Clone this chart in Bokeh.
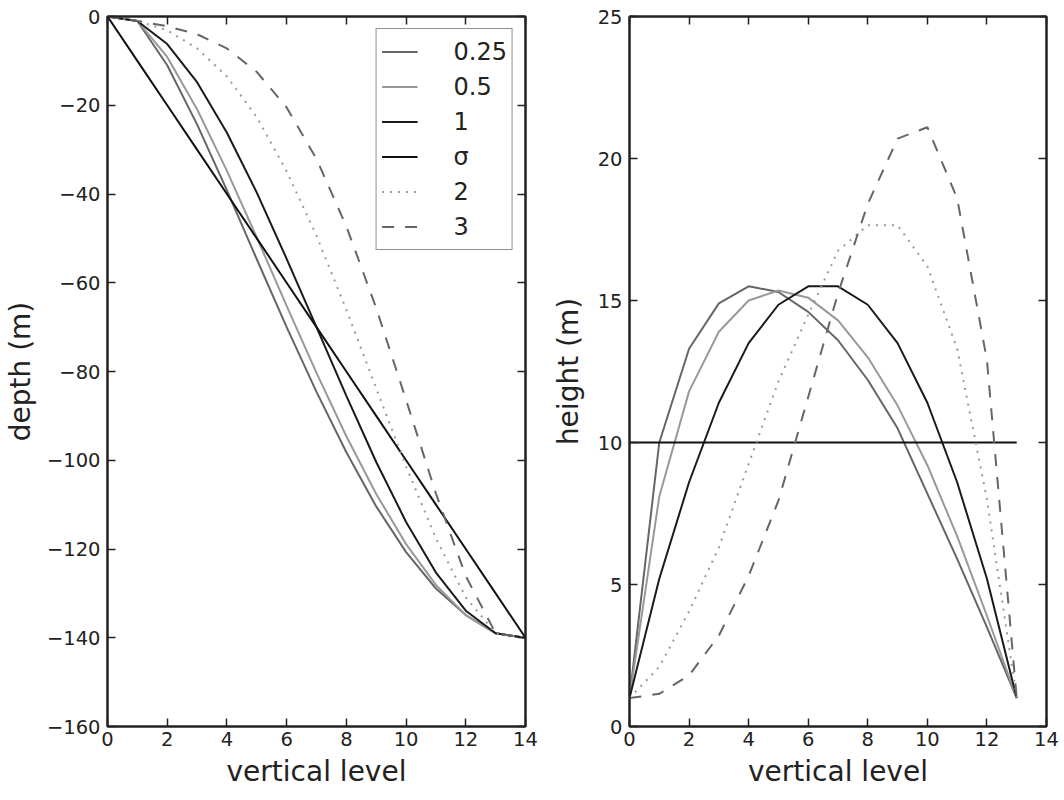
from bokeh.plotting import figure
from bokeh.layouts import row
from bokeh.models import LinearAxis, FixedTicker, Legend, LegendItem, Range1d, CustomJSTickFormatter
from bokeh.embed import file_html
from bokeh.resources import INLINE

# ---------------- data ----------------
levels_depth = [0, 1, 2, 3, 4, 5, 6, 7, 8, 9, 10, 11, 12, 13, 14]
levels_height = [0, 1, 2, 3, 4, 5, 6, 7, 8, 9, 10, 11, 12, 13]

series_labels = ["0.25", "0.5", "1", "σ", "2", "3"]

depth_025 = [0, -1, -11, -24.3, -39.2, -54.7, -70.0, -84.6, -98.2, -110.4, -120.7, -128.9, -134.9, -139, -140]
depth_05 = [0, -1, -9.1, -20.9, -34.8, -49.8, -65.2, -80.3, -94.6, -107.6, -118.9, -128.1, -134.9, -139, -140]
depth_1 = [0, -1, -6.2, -14.8, -26.2, -39.7, -54.6, -70.0, -85.5, -100.4, -113.9, -125.3, -133.9, -139, -140]
depth_sigma = [0, -10, -20, -30, -40, -50, -60, -70, -80, -90, -100, -110, -120, -130, -140]
depth_2 = [0, -1, -3.1, -7.2, -13.5, -22.7, -34.9, -49.4, -66.1, -83.8, -101.4, -117.6, -130.9, -139, -140]
depth_3 = [0, -1, -2.2, -4.0, -7.2, -12.5, -20.5, -32.1, -47.3, -65.7, -86.4, -107.5, -126.1, -139, -140]

height_025 = [1.0, 10.0, 13.3, 14.9, 15.5, 15.3, 14.6, 13.6, 12.2, 10.5, 8.2, 5.9, 3.5, 1.0]
height_05 = [1.0, 8.1, 11.8, 13.9, 15.0, 15.35, 15.1, 14.3, 13.0, 11.3, 9.2, 6.7, 3.9, 1.0]
height_1 = [1.0, 5.2, 8.6, 11.4, 13.5, 14.85, 15.5, 15.5, 14.85, 13.5, 11.4, 8.6, 5.2, 1.0]
height_sigma = [10, 10, 10, 10, 10, 10, 10, 10, 10, 10, 10, 10, 10, 10]
height_2 = [1.0, 2.1, 4.05, 6.3, 9.25, 12.15, 14.5, 16.75, 17.65, 17.65, 16.2, 13.3, 8.0, 1.0]
height_3 = [1.0, 1.15, 1.8, 3.2, 5.3, 7.95, 11.6, 15.25, 18.4, 20.7, 21.1, 18.6, 12.9, 1.0]

x_ticks = [0, 2, 4, 6, 8, 10, 12, 14]
depth_ticks = [-160, -140, -120, -100, -80, -60, -40, -20, 0]
height_ticks = [0, 5, 10, 15, 20, 25]

# ---------------- styles ----------------
FONT = "DejaVu Sans"
INK = "#222222"
colors = ["#666666", "#999999", "#1a1a1a", "#111111", "#999999", "#666666"]
dashes = ["solid", "solid", "solid", "solid", "2 6", "12 11"]
LW = 2

MINUS_FMT = CustomJSTickFormatter(
    code="return tick < 0 ? '\u2212' + Math.abs(tick).toString() : tick.toString();")


def base_figure(frame_w, border_left, border_right, y_range, y_label):
    p = figure(frame_width=frame_w, frame_height=710,
               x_range=Range1d(0, 14), y_range=y_range,
               output_backend="svg", toolbar_location=None,
               min_border_left=border_left, min_border_right=border_right,
               min_border_top=16, min_border_bottom=74,
               x_axis_label="vertical level", y_axis_label=y_label)
    p.xgrid.visible = False
    p.ygrid.visible = False
    p.outline_line_color = INK
    p.outline_line_width = 2
    p.background_fill_color = "white"
    p.border_fill_color = "white"
    return p


def style_axis(ax, ticker, with_labels, label_standoff, axis_label_standoff=9):
    ax.ticker = FixedTicker(ticks=ticker)
    ax.axis_line_color = INK
    ax.axis_line_width = 2
    ax.major_tick_in = 8
    ax.major_tick_out = 0
    ax.major_tick_line_color = INK
    ax.major_tick_line_width = 1.5
    ax.minor_tick_in = 0
    ax.minor_tick_out = 0
    ax.minor_tick_line_color = None
    if with_labels:
        ax.formatter = MINUS_FMT
        ax.major_label_text_font = FONT
        ax.major_label_text_font_size = "19.5px"
        ax.major_label_text_color = INK
        ax.major_label_standoff = label_standoff
        ax.axis_label_text_font = FONT
        ax.axis_label_text_font_size = "28px"
        ax.axis_label_text_font_style = "normal"
        ax.axis_label_text_color = INK
        ax.axis_label_standoff = axis_label_standoff
    else:
        ax.major_label_text_font_size = "0px"
        ax.major_label_standoff = 0


def add_mirror_axes(p, xt, yt):
    top = LinearAxis()
    style_axis(top, xt, False, 0)
    p.add_layout(top, "above")
    right = LinearAxis()
    style_axis(right, yt, False, 0)
    p.add_layout(right, "right")


# ---------------- left panel: depth ----------------
p1 = base_figure(418, 107, 20, Range1d(-160, 0), "depth (m)")
style_axis(p1.xaxis[0], x_ticks, True, 5, 6)
style_axis(p1.yaxis[0], depth_ticks, True, 7, 7)
add_mirror_axes(p1, x_ticks, depth_ticks)

depth_series = [depth_025, depth_05, depth_1, depth_sigma, depth_2, depth_3]
items = []
for lab, ys, c, d in zip(series_labels, depth_series, colors, dashes):
    r = p1.line(levels_depth, ys, line_color=c, line_width=LW, line_dash=d)
    items.append(LegendItem(label=lab, renderers=[r]))

legend = Legend(items=items, location="top_right", margin=12,
                padding=5, spacing=0, glyph_width=36, glyph_height=35,
                label_height=35, label_standoff=36,
                label_text_font=FONT, label_text_font_size="24px",
                label_text_color=INK, border_line_color=INK,
                border_line_width=1.5, background_fill_color="white",
                background_fill_alpha=1)
p1.add_layout(legend)

# ---------------- right panel: height ----------------
p2 = base_figure(417, 84, 18, Range1d(0, 25), "height (m)")
style_axis(p2.xaxis[0], x_ticks, True, 5, 6)
style_axis(p2.yaxis[0], height_ticks, True, 7, 10)
add_mirror_axes(p2, x_ticks, height_ticks)

height_series = [height_025, height_05, height_1, height_sigma, height_2, height_3]
for ys, c, d in zip(height_series, colors, dashes):
    p2.line(levels_height, ys, line_color=c, line_width=LW, line_dash=d)

layout = row(p1, p2)
open("out.html", "w").write(file_html(layout, INLINE))
